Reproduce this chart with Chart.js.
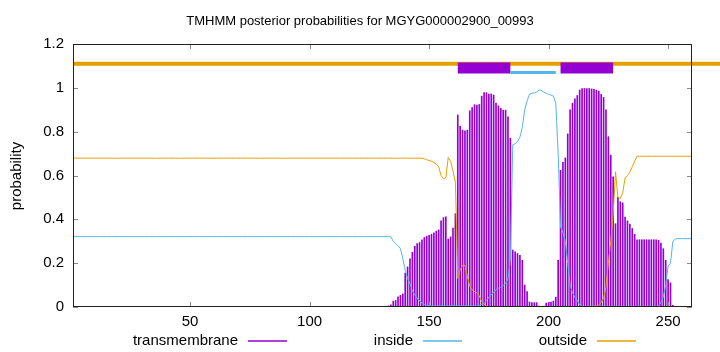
<!DOCTYPE html>
<html>
<head>
<meta charset="utf-8">
<script src="https://cdn.jsdelivr.net/npm/chart.js@4"></script>
<style>
html,body{margin:0;padding:0;background:#fff;}
#wrap{width:720px;height:352px;}
</style>
</head>
<body>
<div id="wrap"><canvas id="c" width="720" height="352"></canvas></div>
<script>
const chartTitle = "TMHMM posterior probabilities for MGYG000002900_00993";
const yAxisLabel = "probability";
const seriesNames = ["transmembrane", "inside", "outside"];
const xTicks = [50, 100, 150, 200, 250];
const yTicks = [0, 0.2, 0.4, 0.6, 0.8, 1, 1.2];
const xRange = [1, 260];

// posterior probability per residue (1..260)
const transmembrane = [
 0,0,0,0,0,0,0,0,0,0,
 0,0,0,0,0,0,0,0,0,0,
 0,0,0,0,0,0,0,0,0,0,
 0,0,0,0,0,0,0,0,0,0,
 0,0,0,0,0,0,0,0,0,0.001,
 0.001,0.001,0.001,0.001,0.001,0.001,0.001,0.001,0.001,0.001,
 0.001,0.001,0.001,0.001,0.001,0.001,0.001,0.001,0.001,0.001,
 0.002,0.002,0.002,0.002,0.003,0.003,0.003,0.003,0.003,0.003,
 0.003,0.003,0.003,0.003,0.003,0.003,0.003,0.003,0.003,0.003,
 0.003,0.003,0.003,0.001,0,0,0,0,0,0,
 0,0,0,0,0,0,0,0,0,0,
 0,0,0,0,0,0,0,0,0,0,
 0,0,0,0,0,0,0,0,0,0,
 0.002,0.003,0.005,0.01,0.027,0.03,0.046,0.053,0.06,0.155,
 0.183,0.22,0.25,0.277,0.289,0.294,0.307,0.317,0.323,0.327,
 0.332,0.338,0.346,0.352,0.393,0.408,0.411,0.31,0.32,0.36,
 0.426,0.876,0.825,0.807,0.804,0.807,0.895,0.91,0.923,0.921,
 0.924,0.962,0.978,0.978,0.972,0.972,0.967,0.93,0.918,0.906,
 0.898,0.898,0.868,0.77,0.26,0.252,0.244,0.236,0.213,0.1,
 0.07,0.023,0.02,0.02,0.02,0.004,0.003,0.004,0.018,0.02,
 0.023,0.027,0.045,0.213,0.624,0.66,0.68,0.79,0.9,0.93,
 0.95,0.965,0.99,0.997,0.997,0.997,0.997,0.995,0.993,0.99,
 0.985,0.97,0.956,0.9,0.777,0.693,0.594,0.38,0.5,0.48,
 0.475,0.41,0.393,0.378,0.358,0.332,0.307,0.307,0.307,0.307,
 0.307,0.307,0.307,0.307,0.307,0.305,0.292,0.266,0.213,0.125,
 0.11,0.008,0.003,0,0,0,0,0,0,0
];
const inside = [
 0.321,0.321,0.321,0.321,0.321,0.321,0.321,0.321,0.321,0.321,
 0.321,0.321,0.321,0.321,0.321,0.321,0.321,0.321,0.321,0.321,
 0.321,0.321,0.321,0.321,0.321,0.321,0.321,0.321,0.321,0.321,
 0.321,0.321,0.321,0.321,0.321,0.321,0.321,0.321,0.321,0.321,
 0.321,0.321,0.321,0.321,0.321,0.321,0.321,0.321,0.321,0.321,
 0.321,0.321,0.321,0.321,0.321,0.321,0.321,0.321,0.321,0.321,
 0.321,0.321,0.321,0.321,0.321,0.321,0.321,0.321,0.321,0.321,
 0.321,0.321,0.321,0.321,0.321,0.321,0.321,0.321,0.321,0.321,
 0.321,0.321,0.321,0.321,0.321,0.321,0.321,0.321,0.321,0.321,
 0.321,0.321,0.321,0.321,0.321,0.321,0.321,0.321,0.321,0.321,
 0.321,0.321,0.321,0.321,0.321,0.321,0.321,0.321,0.321,0.321,
 0.321,0.321,0.321,0.321,0.321,0.321,0.321,0.321,0.321,0.321,
 0.321,0.321,0.321,0.321,0.321,0.321,0.321,0.321,0.321,0.321,
 0.321,0.321,0.321,0.32,0.3,0.29,0.28,0.266,0.22,0.167,
 0.13,0.107,0.075,0.055,0.04,0.028,0.018,0.012,0.008,0.005,
 0.005,0.005,0.005,0.005,0.005,0.005,0.005,0.005,0.005,0.005,
 0.005,0.005,0.005,0.005,0.005,0.005,0.005,0.005,0.005,0.005,
 0.008,0.012,0.015,0.03,0.046,0.055,0.068,0.08,0.086,0.09,
 0.098,0.107,0.13,0.213,0.74,0.745,0.755,0.775,0.82,0.9,
 0.94,0.97,0.975,0.977,0.98,0.99,0.988,0.98,0.975,0.97,
 0.967,0.962,0.93,0.7,0.365,0.34,0.3,0.2,0.1,0.065,
 0.045,0.03,0.01,0.004,0.003,0.003,0.003,0.003,0.003,0.003,
 0.003,0.003,0.003,0.003,0.003,0.003,0.003,0.003,0.003,0.003,
 0.003,0.003,0.003,0.003,0.003,0.003,0.003,0.003,0.003,0.003,
 0.003,0.003,0.003,0.003,0.003,0.005,0.02,0.046,0.1,0.187,
 0.2,0.3,0.31,0.312,0.312,0.312,0.312,0.312,0.312,0.312
];
const outside = [
 0.679,0.679,0.679,0.679,0.679,0.679,0.679,0.679,0.679,0.679,
 0.679,0.679,0.679,0.679,0.679,0.679,0.679,0.679,0.679,0.679,
 0.679,0.679,0.679,0.679,0.679,0.679,0.679,0.679,0.679,0.679,
 0.679,0.679,0.679,0.679,0.679,0.679,0.679,0.679,0.679,0.679,
 0.679,0.679,0.679,0.679,0.679,0.679,0.679,0.679,0.679,0.679,
 0.679,0.679,0.679,0.679,0.679,0.679,0.679,0.679,0.679,0.679,
 0.679,0.679,0.679,0.679,0.679,0.679,0.679,0.679,0.679,0.679,
 0.679,0.679,0.679,0.679,0.679,0.679,0.679,0.679,0.679,0.679,
 0.679,0.679,0.679,0.679,0.679,0.679,0.679,0.679,0.679,0.679,
 0.679,0.679,0.679,0.679,0.679,0.679,0.679,0.679,0.679,0.679,
 0.679,0.679,0.679,0.679,0.679,0.679,0.679,0.679,0.679,0.679,
 0.679,0.679,0.679,0.679,0.679,0.679,0.679,0.679,0.679,0.679,
 0.679,0.679,0.679,0.679,0.679,0.679,0.679,0.679,0.679,0.679,
 0.679,0.679,0.679,0.679,0.679,0.679,0.679,0.679,0.679,0.679,
 0.679,0.679,0.679,0.679,0.679,0.679,0.679,0.676,0.672,0.668,
 0.665,0.66,0.652,0.64,0.6,0.586,0.589,0.682,0.665,0.62,
 0.57,0.13,0.17,0.19,0.19,0.14,0.095,0.078,0.07,0.065,
 0.05,0.025,0.012,0.005,0.002,0.002,0.002,0.002,0.002,0.002,
 0.002,0.002,0.002,0.002,0.002,0.002,0.002,0.002,0.002,0.002,
 0.002,0.002,0.002,0.002,0.002,0.002,0.002,0.002,0.002,0.002,
 0.002,0.002,0.002,0.002,0.002,0.002,0.002,0.002,0.002,0.002,
 0.002,0.002,0.002,0.002,0.002,0.002,0.002,0.002,0.003,0.005,
 0.01,0.02,0.04,0.09,0.2,0.3,0.42,0.617,0.5,0.495,
 0.52,0.59,0.6,0.615,0.64,0.665,0.688,0.688,0.688,0.688,
 0.688,0.688,0.688,0.688,0.688,0.688,0.688,0.688,0.688,0.688,
 0.688,0.688,0.688,0.688,0.688,0.688,0.688,0.688,0.688,0.688
];

// predicted topology segments (residue ranges) and the level they are drawn at
const tmSegments = [[162, 184], [205, 227]];
const insideSegments = [[184, 203]];
const outsideSegments = [[1, 280]];
const tmLevel = 1.09;
const insideLevel = 1.07;
const outsideLevel = 1.11;

const COL_TM = '#9400D3';
const COL_IN = '#56B4E9';
const COL_OUT = '#E69F00';
const FONT = "'Liberation Sans', Arial, Helvetica, sans-serif";

function toPoints(arr) { return arr.map((v, i) => ({ x: i + 1, y: v })); }
function segDatasets(segs, level, color, width, order) {
  return segs.map(s => ({
    type: 'line', label: '_seg',
    data: [{ x: s[0], y: level }, { x: s[1], y: level }],
    borderColor: color, borderWidth: width, borderCapStyle: 'butt',
    pointRadius: 0, tension: 0, fill: false, clip: false, order: order
  }));
}

const datasets = [
  { type: 'bar', label: seriesNames[0], data: toPoints(transmembrane),
    backgroundColor: COL_TM, borderWidth: 0, barThickness: 1.0, order: 10 },
  { type: 'line', label: seriesNames[1], data: toPoints(inside),
    borderColor: COL_IN, borderWidth: 1, pointRadius: 0, tension: 0, fill: false, order: 9 },
  { type: 'line', label: seriesNames[2], data: toPoints(outside),
    borderColor: COL_OUT, borderWidth: 1, pointRadius: 0, tension: 0, fill: false, order: 8 },
  ...segDatasets(outsideSegments, outsideLevel, COL_OUT, 4, 7),
  ...segDatasets(tmSegments, tmLevel, COL_TM, 11, 6),
  ...segDatasets(insideSegments, insideLevel, COL_IN, 3, 5)
];

const decor = {
  id: 'decor',
  afterDatasetsDraw(chart) {
    const ctx = chart.ctx, a = chart.chartArea;
    const xs = chart.scales.x, ys = chart.scales.y;
    ctx.save();
    // tick marks (inward, mirrored)
    ctx.strokeStyle = '#888';
    ctx.lineWidth = 1;
    ctx.beginPath();
    yTicks.forEach(v => {
      const y = Math.round(ys.getPixelForValue(v)) + 0.5;
      ctx.moveTo(a.left, y); ctx.lineTo(a.left + 5, y);
      ctx.moveTo(a.right, y); ctx.lineTo(a.right - 5, y);
    });
    xTicks.forEach(v => {
      const x = Math.round(xs.getPixelForValue(v)) + 0.5;
      ctx.moveTo(x, a.bottom); ctx.lineTo(x, a.bottom - 5);
      ctx.moveTo(x, a.top); ctx.lineTo(x, a.top + 5);
    });
    ctx.stroke();
    // frame
    ctx.strokeStyle = '#222';
    ctx.strokeRect(Math.round(a.left) + 0.5, Math.round(a.top) + 0.5,
                   Math.round(a.right - a.left) - 1, Math.round(a.bottom - a.top) - 1);
    // title
    ctx.fillStyle = '#000';
    ctx.font = '13px ' + FONT;
    ctx.textAlign = 'center';
    ctx.textBaseline = 'alphabetic';
    ctx.fillText(chartTitle, 360, 25);
    // y label
    ctx.font = '15px ' + FONT;
    ctx.save();
    ctx.translate(17, 176);
    ctx.rotate(-Math.PI / 2);
    ctx.textBaseline = 'middle';
    ctx.fillText(yAxisLabel, 0, 0);
    ctx.restore();
    // legend (text then line sample, gnuplot style)
    const cols = [COL_TM, COL_IN, COL_OUT];
    const textRight = [238, 413, 587];
    ctx.textAlign = 'right';
    ctx.textBaseline = 'alphabetic';
    seriesNames.forEach((n, i) => {
      ctx.fillStyle = '#000';
      ctx.fillText(n, textRight[i], 345);
      ctx.strokeStyle = cols[i];
      ctx.lineWidth = 1.3;
      ctx.beginPath();
      ctx.moveTo(textRight[i] + 10, 341);
      ctx.lineTo(textRight[i] + 49, 341);
      ctx.stroke();
    });
    ctx.restore();
  }
};

new Chart(document.getElementById('c'), {
  type: 'line',
  data: { datasets },
  options: {
    responsive: false,
    devicePixelRatio: 1,
    animation: false,
    events: [],
    layout: { padding: { top: 44, right: 28, bottom: 0, left: 0 } },
    plugins: { legend: { display: false }, tooltip: { enabled: false }, title: { display: false } },
    scales: {
      x: {
        type: 'linear', min: xRange[0], max: xRange[1], offset: false,
        grid: { display: false, drawTicks: false }, border: { display: false },
        afterBuildTicks: s => { s.ticks = xTicks.map(v => ({ value: v })); },
        afterFit: s => { s.height = 45; },
        ticks: { color: '#000', font: { family: FONT, size: 15 }, padding: 6, maxRotation: 0, autoSkip: false,
                 callback: v => String(v) }
      },
      y: {
        type: 'linear', min: 0, max: 1.2,
        grid: { display: false, drawTicks: false }, border: { display: false },
        afterBuildTicks: s => { s.ticks = yTicks.map(v => ({ value: v })); },
        afterFit: s => { s.width = 73; },
        ticks: { color: '#000', font: { family: FONT, size: 15 }, padding: 9, autoSkip: false,
                 callback: v => String(v) }
      }
    }
  },
  plugins: [decor]
});
</script>
</body>
</html>
